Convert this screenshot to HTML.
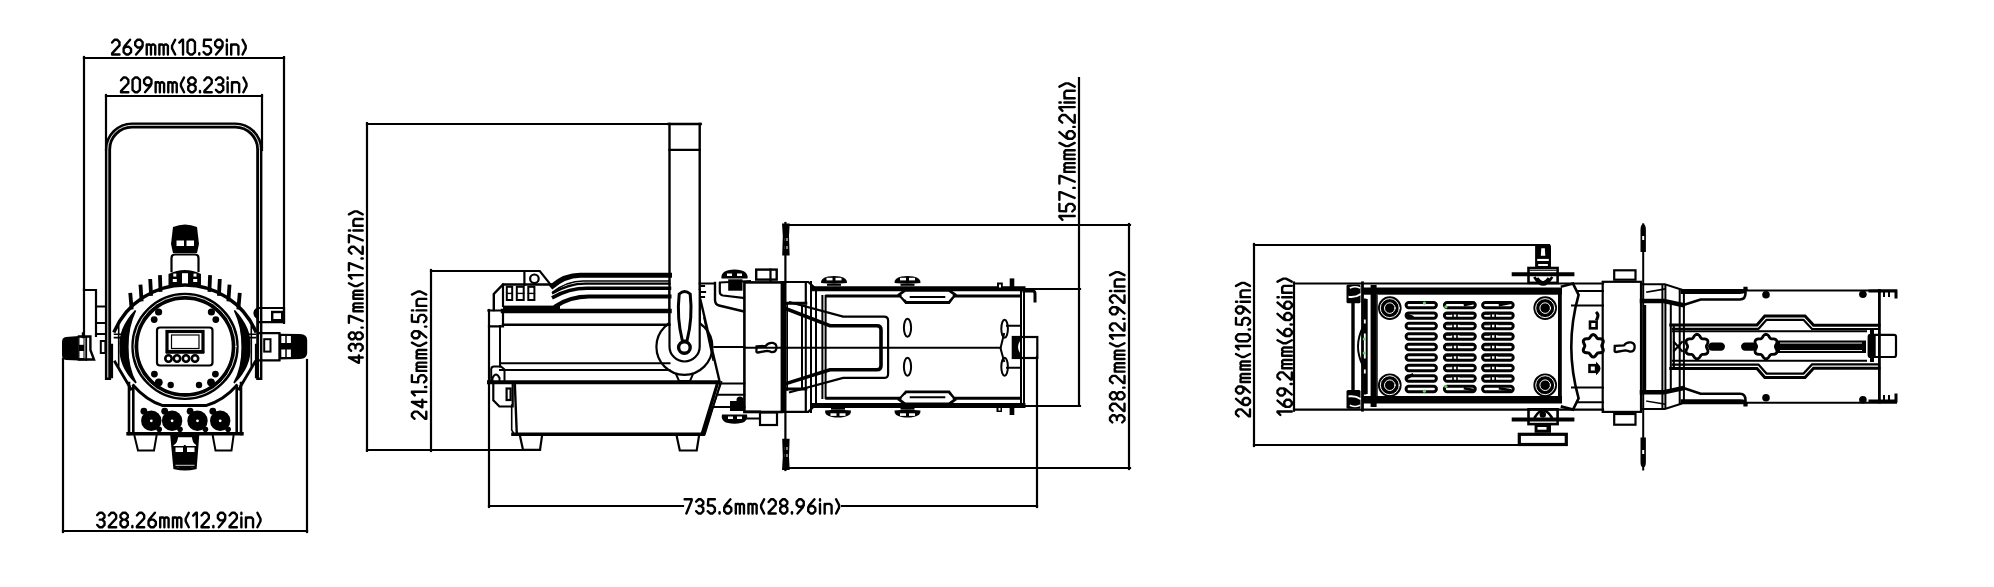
<!DOCTYPE html>
<html><head><meta charset="utf-8"><style>
html,body{margin:0;padding:0;background:#fff;overflow:hidden}
svg{display:block}
text{font-family:"Liberation Sans",sans-serif;font-weight:bold}
</style></head><body>
<svg width="1994" height="587" viewBox="0 0 1994 587" stroke="#000" fill="none" stroke-linecap="square" stroke-linejoin="miter">
<line x1="84" y1="58" x2="284" y2="58" stroke-width="2.2"/>
<line x1="84" y1="57" x2="84" y2="290" stroke-width="2.2"/>
<line x1="284" y1="57" x2="284" y2="323" stroke-width="2.2"/>
<g transform="translate(110.90,39.70) scale(1.8500)" stroke-width="1.297" stroke-linecap="round" stroke-linejoin="round" fill="none" stroke="#000"><path transform="translate(0.649,0)" d="M0,1.5 L1.3,0 H2.7 L4,1.3 V3.1 L0,7.4 V8 H4"/><path transform="translate(6.888,0)" d="M3.5,0 L0.6,3.4 L0,4.6 V6.7 L1.3,8 H2.7 L4,6.7 V5 L2.8,3.8 H1.2 L0.3,4.5"/><path transform="translate(13.128,0)" d="M0.5,8 L3.4,4.6 L4,3.4 V1.3 L2.7,0 H1.3 L0,1.3 V3 L1.2,4.2 H2.8 L3.7,3.5"/><path transform="translate(19.368,0)" d="M0,8 V2.6 M0,3.4 L0.6,2.6 H1.6 L2.3,3.3 V8 M2.3,3.3 L3,2.6 H3.9 L4.6,3.3 V8"/><path transform="translate(26.207,0)" d="M0,8 V2.6 M0,3.4 L0.6,2.6 H1.6 L2.3,3.3 V8 M2.3,3.3 L3,2.6 H3.9 L4.6,3.3 V8"/><path transform="translate(33.047,0)" d="M1.7,0 L0,3.3 V4.7 L1.7,8"/><path transform="translate(36.987,0)" d="M0,1.6 L1.6,0 H2 V8"/><path transform="translate(41.427,0)" d="M1.3,0 H2.7 L4,1.3 V6.7 L2.7,8 H1.3 L0,6.7 V1.3 Z"/><path transform="translate(47.666,0)" d="M0.1,7.3 V8"/><path transform="translate(50.106,0)" d="M4,0 H0.3 L0.1,3.5 H2.7 L4,4.8 V6.7 L2.7,8 H1.3 L0,6.7"/><path transform="translate(56.346,0)" d="M0.5,8 L3.4,4.6 L4,3.4 V1.3 L2.7,0 H1.3 L0,1.3 V3 L1.2,4.2 H2.8 L3.7,3.5"/><path transform="translate(62.585,0)" d="M0.1,0 V0.7 M0.1,2.6 V8"/><path transform="translate(65.025,0)" d="M0,8 V2.6 M0,3.5 L0.8,2.6 H3 L3.9,3.5 V8"/><path transform="translate(71.165,0)" d="M0,0 L1.7,3.3 V4.7 L0,8"/></g>
<line x1="106" y1="96" x2="262" y2="96" stroke-width="2.2"/>
<line x1="106" y1="95" x2="106" y2="150" stroke-width="2.2"/>
<line x1="262" y1="95" x2="262" y2="150" stroke-width="2.2"/>
<g transform="translate(119.80,77.50) scale(1.8375)" stroke-width="1.306" stroke-linecap="round" stroke-linejoin="round" fill="none" stroke="#000"><path transform="translate(0.653,0)" d="M0,1.5 L1.3,0 H2.7 L4,1.3 V3.1 L0,7.4 V8 H4"/><path transform="translate(6.936,0)" d="M1.3,0 H2.7 L4,1.3 V6.7 L2.7,8 H1.3 L0,6.7 V1.3 Z"/><path transform="translate(13.220,0)" d="M0.5,8 L3.4,4.6 L4,3.4 V1.3 L2.7,0 H1.3 L0,1.3 V3 L1.2,4.2 H2.8 L3.7,3.5"/><path transform="translate(19.503,0)" d="M0,8 V2.6 M0,3.4 L0.6,2.6 H1.6 L2.3,3.3 V8 M2.3,3.3 L3,2.6 H3.9 L4.6,3.3 V8"/><path transform="translate(26.386,0)" d="M0,8 V2.6 M0,3.4 L0.6,2.6 H1.6 L2.3,3.3 V8 M2.3,3.3 L3,2.6 H3.9 L4.6,3.3 V8"/><path transform="translate(33.269,0)" d="M1.7,0 L0,3.3 V4.7 L1.7,8"/><path transform="translate(37.253,0)" d="M1.3,0 H2.7 L4,1.3 V2.5 L2.8,3.8 H1.2 L0,2.5 V1.3 Z M1.2,3.8 L0,5 V6.7 L1.3,8 H2.7 L4,6.7 V5 L2.8,3.8"/><path transform="translate(43.536,0)" d="M0.1,7.3 V8"/><path transform="translate(46.019,0)" d="M0,1.5 L1.3,0 H2.7 L4,1.3 V3.1 L0,7.4 V8 H4"/><path transform="translate(52.303,0)" d="M0,1.3 L1.3,0 H2.7 L4,1.3 V2.6 L2.8,3.8 H1.4 M2.8,3.8 L4,5 V6.7 L2.7,8 H1.3 L0,6.7"/><path transform="translate(58.586,0)" d="M0.1,0 V0.7 M0.1,2.6 V8"/><path transform="translate(61.069,0)" d="M0,8 V2.6 M0,3.5 L0.8,2.6 H3 L3.9,3.5 V8"/><path transform="translate(67.252,0)" d="M0,0 L1.7,3.3 V4.7 L0,8"/></g>
<line x1="63" y1="531" x2="307" y2="531" stroke-width="2.2"/>
<line x1="63" y1="359" x2="63" y2="532" stroke-width="2.2"/>
<line x1="307" y1="360" x2="307" y2="532" stroke-width="2.2"/>
<g transform="translate(96.00,512.70) scale(1.8250)" stroke-width="1.315" stroke-linecap="round" stroke-linejoin="round" fill="none" stroke="#000"><path transform="translate(0.658,0)" d="M0,1.3 L1.3,0 H2.7 L4,1.3 V2.6 L2.8,3.8 H1.4 M2.8,3.8 L4,5 V6.7 L2.7,8 H1.3 L0,6.7"/><path transform="translate(7.044,0)" d="M0,1.5 L1.3,0 H2.7 L4,1.3 V3.1 L0,7.4 V8 H4"/><path transform="translate(13.430,0)" d="M1.3,0 H2.7 L4,1.3 V2.5 L2.8,3.8 H1.2 L0,2.5 V1.3 Z M1.2,3.8 L0,5 V6.7 L1.3,8 H2.7 L4,6.7 V5 L2.8,3.8"/><path transform="translate(19.816,0)" d="M0.1,7.3 V8"/><path transform="translate(22.402,0)" d="M0,1.5 L1.3,0 H2.7 L4,1.3 V3.1 L0,7.4 V8 H4"/><path transform="translate(28.789,0)" d="M3.5,0 L0.6,3.4 L0,4.6 V6.7 L1.3,8 H2.7 L4,6.7 V5 L2.8,3.8 H1.2 L0.3,4.5"/><path transform="translate(35.175,0)" d="M0,8 V2.6 M0,3.4 L0.6,2.6 H1.6 L2.3,3.3 V8 M2.3,3.3 L3,2.6 H3.9 L4.6,3.3 V8"/><path transform="translate(42.161,0)" d="M0,8 V2.6 M0,3.4 L0.6,2.6 H1.6 L2.3,3.3 V8 M2.3,3.3 L3,2.6 H3.9 L4.6,3.3 V8"/><path transform="translate(49.147,0)" d="M1.7,0 L0,3.3 V4.7 L1.7,8"/><path transform="translate(53.233,0)" d="M0,1.6 L1.6,0 H2 V8"/><path transform="translate(57.820,0)" d="M0,1.5 L1.3,0 H2.7 L4,1.3 V3.1 L0,7.4 V8 H4"/><path transform="translate(64.206,0)" d="M0.1,7.3 V8"/><path transform="translate(66.792,0)" d="M0.5,8 L3.4,4.6 L4,3.4 V1.3 L2.7,0 H1.3 L0,1.3 V3 L1.2,4.2 H2.8 L3.7,3.5"/><path transform="translate(73.178,0)" d="M0,1.5 L1.3,0 H2.7 L4,1.3 V3.1 L0,7.4 V8 H4"/><path transform="translate(79.565,0)" d="M0.1,0 V0.7 M0.1,2.6 V8"/><path transform="translate(82.151,0)" d="M0,8 V2.6 M0,3.5 L0.8,2.6 H3 L3.9,3.5 V8"/><path transform="translate(88.437,0)" d="M0,0 L1.7,3.3 V4.7 L0,8"/></g>
<line x1="367" y1="124" x2="700" y2="124" stroke-width="2.2"/>
<line x1="367" y1="123" x2="367" y2="451" stroke-width="2.2"/>
<line x1="367" y1="450" x2="540" y2="450" stroke-width="2.2"/>
<g transform="translate(347.7,363.9) rotate(-90)"><g transform="translate(0.00,1.20) scale(1.7250)" stroke-width="1.391" stroke-linecap="round" stroke-linejoin="round" fill="none" stroke="#000"><path transform="translate(0.696,0)" d="M3,8 V0 L0,5.4 V5.8 H4.2"/><path transform="translate(7.576,0)" d="M0,1.3 L1.3,0 H2.7 L4,1.3 V2.6 L2.8,3.8 H1.4 M2.8,3.8 L4,5 V6.7 L2.7,8 H1.3 L0,6.7"/><path transform="translate(14.257,0)" d="M1.3,0 H2.7 L4,1.3 V2.5 L2.8,3.8 H1.2 L0,2.5 V1.3 Z M1.2,3.8 L0,5 V6.7 L1.3,8 H2.7 L4,6.7 V5 L2.8,3.8"/><path transform="translate(20.938,0)" d="M0.1,7.3 V8"/><path transform="translate(23.818,0)" d="M0,0 H4 V0.6 L1,8"/><path transform="translate(30.499,0)" d="M0,8 V2.6 M0,3.4 L0.6,2.6 H1.6 L2.3,3.3 V8 M2.3,3.3 L3,2.6 H3.9 L4.6,3.3 V8"/><path transform="translate(37.780,0)" d="M0,8 V2.6 M0,3.4 L0.6,2.6 H1.6 L2.3,3.3 V8 M2.3,3.3 L3,2.6 H3.9 L4.6,3.3 V8"/><path transform="translate(45.060,0)" d="M1.7,0 L0,3.3 V4.7 L1.7,8"/><path transform="translate(49.441,0)" d="M0,1.6 L1.6,0 H2 V8"/><path transform="translate(54.322,0)" d="M0,0 H4 V0.6 L1,8"/><path transform="translate(61.002,0)" d="M0.1,7.3 V8"/><path transform="translate(63.883,0)" d="M0,1.5 L1.3,0 H2.7 L4,1.3 V3.1 L0,7.4 V8 H4"/><path transform="translate(70.564,0)" d="M0,0 H4 V0.6 L1,8"/><path transform="translate(77.244,0)" d="M0.1,0 V0.7 M0.1,2.6 V8"/><path transform="translate(80.125,0)" d="M0,8 V2.6 M0,3.5 L0.8,2.6 H3 L3.9,3.5 V8"/><path transform="translate(86.706,0)" d="M0,0 L1.7,3.3 V4.7 L0,8"/></g></g>
<line x1="431" y1="271" x2="526" y2="271" stroke-width="2.2"/>
<line x1="431" y1="270" x2="431" y2="451" stroke-width="2.2"/>
<g transform="translate(410.7,420) rotate(-90)"><g transform="translate(0.00,1.20) scale(1.8000)" stroke-width="1.333" stroke-linecap="round" stroke-linejoin="round" fill="none" stroke="#000"><path transform="translate(0.667,0)" d="M0,1.5 L1.3,0 H2.7 L4,1.3 V3.1 L0,7.4 V8 H4"/><path transform="translate(7.068,0)" d="M3,8 V0 L0,5.4 V5.8 H4.2"/><path transform="translate(13.670,0)" d="M0,1.6 L1.6,0 H2 V8"/><path transform="translate(18.272,0)" d="M0.1,7.3 V8"/><path transform="translate(20.874,0)" d="M4,0 H0.3 L0.1,3.5 H2.7 L4,4.8 V6.7 L2.7,8 H1.3 L0,6.7"/><path transform="translate(27.275,0)" d="M0,8 V2.6 M0,3.4 L0.6,2.6 H1.6 L2.3,3.3 V8 M2.3,3.3 L3,2.6 H3.9 L4.6,3.3 V8"/><path transform="translate(34.277,0)" d="M0,8 V2.6 M0,3.4 L0.6,2.6 H1.6 L2.3,3.3 V8 M2.3,3.3 L3,2.6 H3.9 L4.6,3.3 V8"/><path transform="translate(41.279,0)" d="M1.7,0 L0,3.3 V4.7 L1.7,8"/><path transform="translate(45.380,0)" d="M0.5,8 L3.4,4.6 L4,3.4 V1.3 L2.7,0 H1.3 L0,1.3 V3 L1.2,4.2 H2.8 L3.7,3.5"/><path transform="translate(51.782,0)" d="M0.1,7.3 V8"/><path transform="translate(54.384,0)" d="M4,0 H0.3 L0.1,3.5 H2.7 L4,4.8 V6.7 L2.7,8 H1.3 L0,6.7"/><path transform="translate(60.785,0)" d="M0.1,0 V0.7 M0.1,2.6 V8"/><path transform="translate(63.387,0)" d="M0,8 V2.6 M0,3.5 L0.8,2.6 H3 L3.9,3.5 V8"/><path transform="translate(69.689,0)" d="M0,0 L1.7,3.3 V4.7 L0,8"/></g></g>
<line x1="489" y1="310" x2="489" y2="507" stroke-width="2.2"/>
<line x1="489" y1="506" x2="683" y2="506" stroke-width="2.2"/>
<line x1="842" y1="506" x2="1037" y2="506" stroke-width="2.2"/>
<line x1="1037" y1="357" x2="1037" y2="507" stroke-width="2.2"/>
<g transform="translate(683.40,499.30) scale(1.7750)" stroke-width="1.352" stroke-linecap="round" stroke-linejoin="round" fill="none" stroke="#000"><path transform="translate(0.676,0)" d="M0,0 H4 V0.6 L1,8"/><path transform="translate(7.206,0)" d="M0,1.3 L1.3,0 H2.7 L4,1.3 V2.6 L2.8,3.8 H1.4 M2.8,3.8 L4,5 V6.7 L2.7,8 H1.3 L0,6.7"/><path transform="translate(13.735,0)" d="M4,0 H0.3 L0.1,3.5 H2.7 L4,4.8 V6.7 L2.7,8 H1.3 L0,6.7"/><path transform="translate(20.265,0)" d="M0.1,7.3 V8"/><path transform="translate(22.994,0)" d="M3.5,0 L0.6,3.4 L0,4.6 V6.7 L1.3,8 H2.7 L4,6.7 V5 L2.8,3.8 H1.2 L0.3,4.5"/><path transform="translate(29.523,0)" d="M0,8 V2.6 M0,3.4 L0.6,2.6 H1.6 L2.3,3.3 V8 M2.3,3.3 L3,2.6 H3.9 L4.6,3.3 V8"/><path transform="translate(36.653,0)" d="M0,8 V2.6 M0,3.4 L0.6,2.6 H1.6 L2.3,3.3 V8 M2.3,3.3 L3,2.6 H3.9 L4.6,3.3 V8"/><path transform="translate(43.782,0)" d="M1.7,0 L0,3.3 V4.7 L1.7,8"/><path transform="translate(48.012,0)" d="M0,1.5 L1.3,0 H2.7 L4,1.3 V3.1 L0,7.4 V8 H4"/><path transform="translate(54.541,0)" d="M1.3,0 H2.7 L4,1.3 V2.5 L2.8,3.8 H1.2 L0,2.5 V1.3 Z M1.2,3.8 L0,5 V6.7 L1.3,8 H2.7 L4,6.7 V5 L2.8,3.8"/><path transform="translate(61.071,0)" d="M0.1,7.3 V8"/><path transform="translate(63.800,0)" d="M0.5,8 L3.4,4.6 L4,3.4 V1.3 L2.7,0 H1.3 L0,1.3 V3 L1.2,4.2 H2.8 L3.7,3.5"/><path transform="translate(70.330,0)" d="M3.5,0 L0.6,3.4 L0,4.6 V6.7 L1.3,8 H2.7 L4,6.7 V5 L2.8,3.8 H1.2 L0.3,4.5"/><path transform="translate(76.859,0)" d="M0.1,0 V0.7 M0.1,2.6 V8"/><path transform="translate(79.589,0)" d="M0,8 V2.6 M0,3.5 L0.8,2.6 H3 L3.9,3.5 V8"/><path transform="translate(86.018,0)" d="M0,0 L1.7,3.3 V4.7 L0,8"/></g>
<line x1="785" y1="225" x2="1130" y2="225" stroke-width="2.2"/>
<line x1="1129" y1="224" x2="1129" y2="469" stroke-width="2.2"/>
<line x1="785" y1="468" x2="1130" y2="468" stroke-width="2.2"/>
<g transform="translate(1108.8,423.7) rotate(-90)"><g transform="translate(0.00,1.20) scale(1.8125)" stroke-width="1.324" stroke-linecap="round" stroke-linejoin="round" fill="none" stroke="#000"><path transform="translate(0.662,0)" d="M0,1.3 L1.3,0 H2.7 L4,1.3 V2.6 L2.8,3.8 H1.4 M2.8,3.8 L4,5 V6.7 L2.7,8 H1.3 L0,6.7"/><path transform="translate(7.041,0)" d="M0,1.5 L1.3,0 H2.7 L4,1.3 V3.1 L0,7.4 V8 H4"/><path transform="translate(13.419,0)" d="M1.3,0 H2.7 L4,1.3 V2.5 L2.8,3.8 H1.2 L0,2.5 V1.3 Z M1.2,3.8 L0,5 V6.7 L1.3,8 H2.7 L4,6.7 V5 L2.8,3.8"/><path transform="translate(19.798,0)" d="M0.1,7.3 V8"/><path transform="translate(22.377,0)" d="M0,1.5 L1.3,0 H2.7 L4,1.3 V3.1 L0,7.4 V8 H4"/><path transform="translate(28.755,0)" d="M0,8 V2.6 M0,3.4 L0.6,2.6 H1.6 L2.3,3.3 V8 M2.3,3.3 L3,2.6 H3.9 L4.6,3.3 V8"/><path transform="translate(35.734,0)" d="M0,8 V2.6 M0,3.4 L0.6,2.6 H1.6 L2.3,3.3 V8 M2.3,3.3 L3,2.6 H3.9 L4.6,3.3 V8"/><path transform="translate(42.712,0)" d="M1.7,0 L0,3.3 V4.7 L1.7,8"/><path transform="translate(46.791,0)" d="M0,1.6 L1.6,0 H2 V8"/><path transform="translate(51.370,0)" d="M0,1.5 L1.3,0 H2.7 L4,1.3 V3.1 L0,7.4 V8 H4"/><path transform="translate(57.748,0)" d="M0.1,7.3 V8"/><path transform="translate(60.327,0)" d="M0.5,8 L3.4,4.6 L4,3.4 V1.3 L2.7,0 H1.3 L0,1.3 V3 L1.2,4.2 H2.8 L3.7,3.5"/><path transform="translate(66.706,0)" d="M0,1.5 L1.3,0 H2.7 L4,1.3 V3.1 L0,7.4 V8 H4"/><path transform="translate(73.084,0)" d="M0.1,0 V0.7 M0.1,2.6 V8"/><path transform="translate(75.663,0)" d="M0,8 V2.6 M0,3.5 L0.8,2.6 H3 L3.9,3.5 V8"/><path transform="translate(81.941,0)" d="M0,0 L1.7,3.3 V4.7 L0,8"/></g></g>
<line x1="1022" y1="289" x2="1080" y2="289" stroke-width="2.2"/>
<line x1="1079" y1="78" x2="1079" y2="406" stroke-width="2.2"/>
<line x1="1022" y1="406" x2="1080" y2="406" stroke-width="2.2"/>
<g transform="translate(1058.2,221) rotate(-90)"><g transform="translate(0.00,1.20) scale(1.9125)" stroke-width="1.255" stroke-linecap="round" stroke-linejoin="round" fill="none" stroke="#000"><path transform="translate(0.627,0)" d="M0,1.6 L1.6,0 H2 V8"/><path transform="translate(4.957,0)" d="M4,0 H0.3 L0.1,3.5 H2.7 L4,4.8 V6.7 L2.7,8 H1.3 L0,6.7"/><path transform="translate(11.087,0)" d="M0,0 H4 V0.6 L1,8"/><path transform="translate(17.218,0)" d="M0.1,7.3 V8"/><path transform="translate(19.548,0)" d="M0,0 H4 V0.6 L1,8"/><path transform="translate(25.678,0)" d="M0,8 V2.6 M0,3.4 L0.6,2.6 H1.6 L2.3,3.3 V8 M2.3,3.3 L3,2.6 H3.9 L4.6,3.3 V8"/><path transform="translate(32.408,0)" d="M0,8 V2.6 M0,3.4 L0.6,2.6 H1.6 L2.3,3.3 V8 M2.3,3.3 L3,2.6 H3.9 L4.6,3.3 V8"/><path transform="translate(39.138,0)" d="M1.7,0 L0,3.3 V4.7 L1.7,8"/><path transform="translate(42.968,0)" d="M3.5,0 L0.6,3.4 L0,4.6 V6.7 L1.3,8 H2.7 L4,6.7 V5 L2.8,3.8 H1.2 L0.3,4.5"/><path transform="translate(49.098,0)" d="M0.1,7.3 V8"/><path transform="translate(51.428,0)" d="M0,1.5 L1.3,0 H2.7 L4,1.3 V3.1 L0,7.4 V8 H4"/><path transform="translate(57.558,0)" d="M0,1.6 L1.6,0 H2 V8"/><path transform="translate(61.888,0)" d="M0.1,0 V0.7 M0.1,2.6 V8"/><path transform="translate(64.218,0)" d="M0,8 V2.6 M0,3.5 L0.8,2.6 H3 L3.9,3.5 V8"/><path transform="translate(70.248,0)" d="M0,0 L1.7,3.3 V4.7 L0,8"/></g></g>
<line x1="1254" y1="245" x2="1549" y2="245" stroke-width="2.2"/>
<line x1="1254" y1="244" x2="1254" y2="446" stroke-width="2.2"/>
<line x1="1254" y1="445" x2="1520" y2="445" stroke-width="2.2"/>
<g transform="translate(1234.8,417.6) rotate(-90)"><g transform="translate(0.00,1.20) scale(1.7500)" stroke-width="1.371" stroke-linecap="round" stroke-linejoin="round" fill="none" stroke="#000"><path transform="translate(0.686,0)" d="M0,1.5 L1.3,0 H2.7 L4,1.3 V3.1 L0,7.4 V8 H4"/><path transform="translate(7.238,0)" d="M3.5,0 L0.6,3.4 L0,4.6 V6.7 L1.3,8 H2.7 L4,6.7 V5 L2.8,3.8 H1.2 L0.3,4.5"/><path transform="translate(13.791,0)" d="M0.5,8 L3.4,4.6 L4,3.4 V1.3 L2.7,0 H1.3 L0,1.3 V3 L1.2,4.2 H2.8 L3.7,3.5"/><path transform="translate(20.344,0)" d="M0,8 V2.6 M0,3.4 L0.6,2.6 H1.6 L2.3,3.3 V8 M2.3,3.3 L3,2.6 H3.9 L4.6,3.3 V8"/><path transform="translate(27.497,0)" d="M0,8 V2.6 M0,3.4 L0.6,2.6 H1.6 L2.3,3.3 V8 M2.3,3.3 L3,2.6 H3.9 L4.6,3.3 V8"/><path transform="translate(34.649,0)" d="M1.7,0 L0,3.3 V4.7 L1.7,8"/><path transform="translate(38.902,0)" d="M0,1.6 L1.6,0 H2 V8"/><path transform="translate(43.655,0)" d="M1.3,0 H2.7 L4,1.3 V6.7 L2.7,8 H1.3 L0,6.7 V1.3 Z"/><path transform="translate(50.208,0)" d="M0.1,7.3 V8"/><path transform="translate(52.960,0)" d="M4,0 H0.3 L0.1,3.5 H2.7 L4,4.8 V6.7 L2.7,8 H1.3 L0,6.7"/><path transform="translate(59.513,0)" d="M0.5,8 L3.4,4.6 L4,3.4 V1.3 L2.7,0 H1.3 L0,1.3 V3 L1.2,4.2 H2.8 L3.7,3.5"/><path transform="translate(66.066,0)" d="M0.1,0 V0.7 M0.1,2.6 V8"/><path transform="translate(68.819,0)" d="M0,8 V2.6 M0,3.5 L0.8,2.6 H3 L3.9,3.5 V8"/><path transform="translate(75.271,0)" d="M0,0 L1.7,3.3 V4.7 L0,8"/></g></g>
<line x1="1294" y1="282.5" x2="1294" y2="410.7" stroke-width="2.2"/>
<g transform="translate(1276.3,416.2) rotate(-90)"><g transform="translate(0.00,1.20) scale(1.7875)" stroke-width="1.343" stroke-linecap="round" stroke-linejoin="round" fill="none" stroke="#000"><path transform="translate(0.671,0)" d="M0,1.6 L1.6,0 H2 V8"/><path transform="translate(5.229,0)" d="M3.5,0 L0.6,3.4 L0,4.6 V6.7 L1.3,8 H2.7 L4,6.7 V5 L2.8,3.8 H1.2 L0.3,4.5"/><path transform="translate(11.587,0)" d="M0.5,8 L3.4,4.6 L4,3.4 V1.3 L2.7,0 H1.3 L0,1.3 V3 L1.2,4.2 H2.8 L3.7,3.5"/><path transform="translate(17.944,0)" d="M0.1,7.3 V8"/><path transform="translate(20.502,0)" d="M0,1.5 L1.3,0 H2.7 L4,1.3 V3.1 L0,7.4 V8 H4"/><path transform="translate(26.860,0)" d="M0,8 V2.6 M0,3.4 L0.6,2.6 H1.6 L2.3,3.3 V8 M2.3,3.3 L3,2.6 H3.9 L4.6,3.3 V8"/><path transform="translate(33.817,0)" d="M0,8 V2.6 M0,3.4 L0.6,2.6 H1.6 L2.3,3.3 V8 M2.3,3.3 L3,2.6 H3.9 L4.6,3.3 V8"/><path transform="translate(40.775,0)" d="M1.7,0 L0,3.3 V4.7 L1.7,8"/><path transform="translate(44.833,0)" d="M3.5,0 L0.6,3.4 L0,4.6 V6.7 L1.3,8 H2.7 L4,6.7 V5 L2.8,3.8 H1.2 L0.3,4.5"/><path transform="translate(51.191,0)" d="M0.1,7.3 V8"/><path transform="translate(53.748,0)" d="M3.5,0 L0.6,3.4 L0,4.6 V6.7 L1.3,8 H2.7 L4,6.7 V5 L2.8,3.8 H1.2 L0.3,4.5"/><path transform="translate(60.106,0)" d="M3.5,0 L0.6,3.4 L0,4.6 V6.7 L1.3,8 H2.7 L4,6.7 V5 L2.8,3.8 H1.2 L0.3,4.5"/><path transform="translate(66.464,0)" d="M0.1,0 V0.7 M0.1,2.6 V8"/><path transform="translate(69.021,0)" d="M0,8 V2.6 M0,3.5 L0.8,2.6 H3 L3.9,3.5 V8"/><path transform="translate(75.279,0)" d="M0,0 L1.7,3.3 V4.7 L0,8"/></g></g>
<path d="M108,377 V149.5 A24,24 0 0 1 132,125.5 H235.3 A24,24 0 0 1 259.3,149.5 V377" stroke-width="6.2" fill="none"/>
<path d="M107.8,377 V149.5 A24.2,24.2 0 0 1 132,125.3 H235.3 A24.2,24.2 0 0 1 259.5,149.5 V377" stroke="#fff" stroke-width="0.9" fill="none"/>
<path d="M111.8,345 V377 M256.2,345 V377" stroke-width="2.6" fill="none"/>
<path d="M84,290 H96 V336 M84,289 V337" stroke-width="2.2" fill="none"/>
<path d="M96,306.5 H106 M96,323 H106 M96,334 H106" stroke-width="2" fill="none"/>
<path d="M260,308 H284 V322.2 H260" stroke-width="2.2" fill="none"/>
<rect x="272.2" y="312" width="10" height="8.2" rx="0" stroke-width="2.4" fill="none"/>
<path d="M258.2,307.3 Q253,309 253.4,313.5 Q253.6,318 258.2,319.5 Z" fill="#000" stroke="none"/>
<path d="M78.9,336.5 H90.4 V350 L94,359.5 H78.9" stroke-width="2.4" fill="none"/>
<path d="M78.9,336 L66,337 Q62,337.5 62,342 V355 Q62,359.5 66,360 L78.9,360.5 Z" fill="#000" stroke="none"/>
<path d="M78.9,336 H84.5 V360.5 H78.9 Z" fill="#000" stroke="none"/>
<rect x="79.5" y="337.8" width="4" height="7" fill="#fff" stroke="none"/>
<rect x="79.5" y="351" width="4" height="7" fill="#fff" stroke="none"/>
<line x1="86.2" y1="337" x2="86.2" y2="360" stroke-width="1.8"/>
<path d="M83,333.5 V337" stroke-width="2.4" fill="none"/>
<rect x="100.8" y="341" width="4.6" height="12" rx="0" stroke-width="2" fill="none"/>
<path d="M260.2,333.1 H279.3 M260.2,360.4 H279.3" stroke-width="2.4" fill="none"/>
<path d="M279.3,333.5 V360" stroke-width="2" fill="none"/>
<path d="M279.3,333.8 L300,334 Q307.2,334.5 307.2,340 V353 Q307.2,358.5 300,359 L279.3,359.6 Z" fill="#000" stroke="none"/>
<rect x="281.3" y="336" width="9.6" height="7" fill="#fff" stroke="none"/>
<rect x="281.3" y="349.5" width="9.6" height="7.5" fill="#fff" stroke="none"/>
<line x1="286" y1="336" x2="286" y2="357" stroke-width="1.5"/>
<rect x="264.2" y="339.2" width="6.3" height="12.4" rx="0" stroke-width="2" fill="none"/>
<path d="M173,227 Q185,222 197,227 L199,244 L197,253 L173,253 L171,244 Z" stroke-width="0" fill="#000"/>
<rect x="176.5" y="240.5" width="7.5" height="5.5" fill="#fff" stroke="none"/>
<rect x="186.5" y="240.5" width="7.5" height="5.5" fill="#fff" stroke="none"/>
<path d="M171.5,271 V258 Q171.5,254.5 175,254.5 H195 Q198.5,254.5 198.5,258 V271" stroke-width="2.2" fill="none"/>
<path d="M168.5,285.5 V274 Q185,266 201,274 V285.5 Z" stroke-width="0" fill="#000"/>
<rect x="182" y="273.2" width="6" height="11" fill="#fff" stroke="none"/>
<rect x="173.3" y="273.6" width="3" height="3" fill="#fff" stroke="none"/>
<rect x="172.8" y="279" width="4" height="3" fill="#fff" stroke="none"/>
<rect x="193.5" y="273.6" width="3" height="3" fill="#fff" stroke="none"/>
<rect x="193.2" y="279" width="4" height="3" fill="#fff" stroke="none"/>
<path d="M114.5,331 A77,77 0 0 1 255.5,331" stroke-width="3.4" fill="none"/>
<path d="M131.5,307.6 L130.4,294.7" stroke-width="3.8" fill="none"/>
<path d="M141.5,299.5 L140.6,286.5" stroke-width="3.8" fill="none"/>
<path d="M151.0,293.9 L150.3,280.9" stroke-width="3.8" fill="none"/>
<path d="M160.5,290.0 L160.0,277.0" stroke-width="3.8" fill="none"/>
<path d="M209.5,290.0 L210.0,277.0" stroke-width="3.8" fill="none"/>
<path d="M219.0,293.9 L219.7,280.9" stroke-width="3.8" fill="none"/>
<path d="M228.5,299.5 L229.4,286.5" stroke-width="3.8" fill="none"/>
<path d="M238.5,307.6 L239.6,294.7" stroke-width="3.8" fill="none"/>
<circle cx="185" cy="346.4" r="50.2" stroke-width="7" fill="none"/>
<circle cx="185" cy="346.4" r="51" stroke="#fff" stroke-width="0.9" fill="none"/>
<path d="M115,362 L131,389" stroke-width="2.8" fill="none"/>
<path d="M255,362 L239,389" stroke-width="2.8" fill="none"/>
<path d="M135.5,310.5 Q118.5,329 120.5,347 Q119,366 136,383 Q127.5,368 127.8,347 Q127.5,327 135.5,310.5 Z" stroke-width="1.6" fill="#000"/>
<path d="M234.5,310.5 Q251.5,329 249.5,347 Q251,366 234,383 Q242.5,368 242.2,347 Q242.5,327 234.5,310.5 Z" stroke-width="1.6" fill="#000"/>
<path d="M114.5,334.2 H124 M114.5,337.6 H124 M118.7,326 V366" stroke-width="1.6" fill="none"/>
<path d="M255.5,334.2 H246 M255.5,337.6 H246 M251.3,326 V366" stroke-width="1.6" fill="none"/>
<path d="M129,383 V434 M133.3,386 V432 M241,383 V434 M236.7,386 V432" stroke-width="2.6" fill="none"/>
<path d="M133.6,385.7 Q146,400 162.2,405.4 H206.5 Q224,400 236.4,385.7" stroke-width="3" fill="none"/>
<line x1="128" y1="433.7" x2="242" y2="433.7" stroke-width="3.4"/>
<rect x="157" y="327.5" width="55.5" height="38" rx="3" stroke-width="2.2" fill="none"/>
<rect x="167" y="331.5" width="36" height="20" rx="0" stroke-width="3.2" fill="none"/>
<rect x="171.5" y="335" width="27.5" height="13.5" rx="0" stroke-width="1.2" fill="none"/>
<line x1="167" y1="352.5" x2="203" y2="352.5" stroke-width="2.4"/>
<circle cx="168.5" cy="358.5" r="3.2" stroke-width="2.6" fill="none"/>
<circle cx="177" cy="358.5" r="3.2" stroke-width="2.6" fill="none"/>
<circle cx="186" cy="358.5" r="3.2" stroke-width="2.6" fill="none"/>
<circle cx="195" cy="358.5" r="3.2" stroke-width="2.6" fill="none"/>
<circle cx="158.6" cy="312" r="3.6" stroke="none" fill="#000"/>
<circle cx="154.2" cy="319.6" r="3.4" stroke="none" fill="#000"/>
<circle cx="211.4" cy="312" r="3.6" stroke="none" fill="#000"/>
<circle cx="215.8" cy="319.6" r="3.4" stroke="none" fill="#000"/>
<circle cx="154.4" cy="374.1" r="3.4" stroke="none" fill="#000"/>
<circle cx="158.8" cy="382.3" r="3.9" stroke="none" fill="#000"/>
<circle cx="170.7" cy="385" r="3.2" stroke="none" fill="#000"/>
<circle cx="215.4" cy="374.1" r="3.4" stroke="none" fill="#000"/>
<circle cx="211" cy="382.3" r="3.9" stroke="none" fill="#000"/>
<circle cx="199" cy="385" r="3.2" stroke="none" fill="#000"/>
<circle cx="151.3" cy="420.8" r="10.2" stroke="none" fill="#000"/>
<circle cx="143.9" cy="411.2" r="3.4" stroke="none" fill="#000"/>
<circle cx="159.20000000000002" cy="429.3" r="2.8" stroke="none" fill="#000"/>
<circle cx="151.3" cy="420.8" r="1.4" fill="#fff" stroke="none"/>
<circle cx="172.1" cy="420.8" r="10.2" stroke="none" fill="#000"/>
<circle cx="164.7" cy="411.2" r="3.4" stroke="none" fill="#000"/>
<circle cx="180.0" cy="429.3" r="2.8" stroke="none" fill="#000"/>
<circle cx="172.1" cy="420.8" r="1.4" fill="#fff" stroke="none"/>
<circle cx="197.5" cy="420.8" r="10.2" stroke="none" fill="#000"/>
<circle cx="190.1" cy="411.2" r="3.4" stroke="none" fill="#000"/>
<circle cx="205.4" cy="429.3" r="2.8" stroke="none" fill="#000"/>
<circle cx="197.5" cy="420.8" r="1.4" fill="#fff" stroke="none"/>
<circle cx="220.2" cy="420.8" r="10.2" stroke="none" fill="#000"/>
<circle cx="212.79999999999998" cy="411.2" r="3.4" stroke="none" fill="#000"/>
<circle cx="228.1" cy="429.3" r="2.8" stroke="none" fill="#000"/>
<circle cx="220.2" cy="420.8" r="1.4" fill="#fff" stroke="none"/>
<path d="M134.5,436 L138,450.5 H154 L156.5,436" stroke-width="2" fill="none"/>
<path d="M212.8,436 L215.5,450.5 H231.5 L233.5,436" stroke-width="2" fill="none"/>
<path d="M171.5,436 L198,436 L195.5,468 Q185,470.5 174.5,468 Z" stroke-width="2.4" fill="none"/>
<path d="M172.8,446 H197 L195.3,467 Q185,469.5 174.7,467 Z" fill="#000" stroke="none"/>
<path d="M172,437 H178 Q178,442 174,445 H172.5 Z M198,437 H192 Q192,442 196,445 H197.5 Z" fill="#000" stroke="none"/>
<rect x="175.5" y="447.5" width="7.5" height="4.5" fill="#fff" stroke="none"/>
<rect x="187" y="447.5" width="7.5" height="4.5" fill="#fff" stroke="none"/>
<line x1="184.8" y1="446" x2="184.8" y2="453" stroke-width="2"/>
<line x1="176" y1="465.5" x2="194" y2="465.5" stroke-width="0.8"/>
<line x1="176" y1="465.3" x2="194" y2="465.3" stroke="#fff" stroke-width="0.8"/>
<path d="M669.5,124 V346 M699.7,124 V346" stroke-width="2.4" fill="none"/>
<line x1="668.5" y1="124" x2="700.7" y2="124" stroke-width="2.4"/>
<line x1="669.5" y1="149.8" x2="699.7" y2="149.8" stroke-width="2.2"/>
<circle cx="684.4" cy="346.8" r="28" fill="#fff" stroke="#000" stroke-width="2.2"/>
<path d="M676,374 L679,381 H690 L693,374" stroke-width="2" fill="none"/>
<path d="M669.5,290 V346.4 A15.1,15.1 0 0 0 699.7,346.4 V290" fill="#fff" stroke="#000" stroke-width="2.2"/>
<path d="M679.2,294 Q684.7,289 690.2,294 C692,310 690.5,327 687,341 H682.4 C678.9,327 677.4,310 679.2,294 Z" stroke-width="3" fill="none"/>
<circle cx="684.4" cy="347.5" r="5.8" stroke-width="3.4" fill="none"/>
<path d="M524.4,285 V271 H539.8 L550.5,284.5" stroke-width="2.2" fill="none"/>
<circle cx="534.4" cy="278.8" r="4.3" stroke-width="2.2" fill="none"/>
<path d="M493.8,310 V294 L503,284.5 H553" stroke-width="2.4" fill="none"/>
<rect x="506.8" y="286.8" width="5.400000000000034" height="13.2" rx="0" stroke-width="2" fill="none"/>
<line x1="506.8" y1="293.4" x2="512.2" y2="293.4" stroke-width="1.4"/>
<rect x="516.8" y="286.8" width="6.900000000000091" height="13.2" rx="0" stroke-width="2" fill="none"/>
<line x1="516.8" y1="293.4" x2="523.7" y2="293.4" stroke-width="1.4"/>
<rect x="528.3" y="286.8" width="6.100000000000023" height="13.2" rx="0" stroke-width="2" fill="none"/>
<line x1="528.3" y1="293.4" x2="534.4" y2="293.4" stroke-width="1.4"/>
<path d="M503,284.5 V306" stroke-width="2.2" fill="none"/>
<path d="M552.5,286 Q565,275 581,275.3 H669.5" stroke-width="5" fill="none"/>
<path d="M553,292 Q567,281 583,281 H669.5" stroke-width="1.6" fill="none"/>
<path d="M553,293 Q569,283.7 585,283.7 H669.5" stroke-width="2.2" fill="none"/>
<path d="M553.5,297 Q569,288.2 587,288.2 H669.5" stroke-width="3.5" fill="none"/>
<path d="M556,306 Q570,296.6 589,296.6 H669.5" stroke-width="4" fill="none"/>
<rect x="503" y="305.6" width="57" height="7.4" fill="#000" stroke="none"/>
<line x1="503" y1="311" x2="669.5" y2="311" stroke-width="4.5"/>
<path d="M488.4,310.5 H503 V326.3 H489" stroke-width="2.2" fill="none"/>
<line x1="503" y1="324.7" x2="669.5" y2="324.7" stroke-width="2.4"/>
<path d="M500,326 V366.5" stroke-width="2" fill="none"/>
<line x1="500" y1="363.2" x2="669.5" y2="363.2" stroke-width="2"/>
<line x1="500" y1="369.9" x2="669.5" y2="369.9" stroke-width="2"/>
<line x1="489" y1="382.3" x2="718" y2="382.3" stroke-width="4"/>
<path d="M491.2,383 V369.5 Q491.2,366.6 494,366.6 H501 L504.5,369.5 V383" stroke-width="2" fill="none"/>
<path d="M492.5,383 V378 Q496,371 499.5,378 V383" stroke-width="2" fill="none"/>
<path d="M493.3,383 V400.3 L499.4,406.5 H512.7 V385" stroke-width="2.2" fill="none"/>
<rect x="506.6" y="388.5" width="4" height="11.5" rx="0" stroke-width="2.2" fill="none"/>
<path d="M514.8,383 L516.8,434.3 H702.8 L718.2,382" stroke-width="2.4" fill="none"/>
<path d="M721.4,382 L703.6,434.3" stroke-width="1.8" fill="none"/>
<line x1="513" y1="434.3" x2="703" y2="434.3" stroke-width="3.6"/>
<path d="M511.7,405 V430 L514,434" stroke-width="1.6" fill="none"/>
<path d="M520,436 L523,449.8 H540 L542,436" stroke-width="2.2" fill="none"/>
<path d="M676.7,436 L679.8,450.5 H696.7 L699,436" stroke-width="2.2" fill="none"/>
<path d="M700.5,300 L719.5,381" stroke-width="2.4" fill="none"/>
<path d="M704,318 L713,360" stroke-width="1.5" fill="none"/>
<path d="M701.5,286 H704 M701.5,292 H705 M701.5,297 H704" stroke-width="2.2" fill="none"/>
<path d="M716.5,384.4 L701.3,434.3 M720,384.4 L704.8,434.3" stroke-width="1.8" fill="none"/>
<rect x="744.4" y="282.4" width="37.5" height="129.6" rx="0" stroke-width="2.6" fill="none"/>
<path d="M714.4,346.9 H744.4 M720,383.4 H744.4 M717,394.7 H744.4 M714,407 H744.4 M744.4,411.6 H760" stroke-width="2" fill="none"/>
<line x1="699.7" y1="283.5" x2="715" y2="283.5" stroke-width="2"/>
<line x1="720" y1="282.5" x2="750" y2="281" stroke-width="2"/>
<path d="M756.6,346.3 L765.8,345.90000000000003 Q768.0,342.3 772.6999999999999,342.90000000000003 A4.7,4.7 0 0 1 772.0,352.20000000000005 Q770.0,351.1 767.0,350.90000000000003 L758.0,352.5 Q756.4,352.5 756.4,351.20000000000005 Z" stroke-width="2.3" fill="none"/>
<path d="M721.5,278.6 Q720,270 734.5,269.4 Q749,270 747.5,278.6 Z" stroke-width="0" fill="#000"/>
<rect x="727" y="273.5" width="5" height="2.5" fill="#fff" stroke="none"/>
<rect x="737" y="273.5" width="5" height="2.5" fill="#fff" stroke="none"/>
<rect x="728.2" y="279.3" width="14.3" height="11.4" fill="#000" stroke="none"/>
<path d="M715,283 V300 Q715,304.5 719,305.5 L744,311.5" stroke-width="2.4" fill="none"/>
<path d="M719.8,283 V292 Q719.8,295 723,295.5 L744,298" stroke-width="2.2" fill="none"/>
<rect x="756.2" y="269.6" width="20.5" height="10" rx="0" stroke-width="2.4" fill="none"/>
<path d="M770.5,269.6 V282" stroke-width="2.2" fill="none"/>
<path d="M722,414.5 Q720,423.7 734.5,423.7 Q749,423.7 747,414.5 Z" stroke-width="0" fill="#000"/>
<rect x="728" y="416.5" width="5" height="2.5" fill="#fff" stroke="none"/>
<rect x="737" y="416.5" width="5" height="2.5" fill="#fff" stroke="none"/>
<rect x="730" y="401" width="14.4" height="10" fill="#000" stroke="none"/>
<circle cx="740" cy="400" r="3.5" stroke="none" fill="#000"/>
<rect x="760" y="412.4" width="17" height="12.6" rx="0" stroke-width="2.2" fill="none"/>
<path d="M760,418.5 H744.4" stroke-width="2" fill="none"/>
<path d="M782,223.4 H789.7 L789,236 L789.6,255.6 H782.2 L782.8,236 Z" fill="#000" stroke="none"/>
<rect x="784.5" y="238" width="3" height="3" fill="#fff" stroke="none"/>
<rect x="784.5" y="246" width="3" height="3" fill="#fff" stroke="none"/>
<path d="M782.2,438.8 H789.6 L789,457 L789.7,470 H782 L782.8,457 Z" fill="#000" stroke="none"/>
<rect x="784.5" y="447" width="3" height="3" fill="#fff" stroke="none"/>
<rect x="784.5" y="454" width="3" height="3" fill="#fff" stroke="none"/>
<line x1="785.4" y1="223" x2="785.4" y2="470" stroke-width="2.2"/>
<path d="M783.6,283 V411" stroke-width="3.2" fill="none"/>
<path d="M787.2,303 V390" stroke-width="1.6" fill="none"/>
<path d="M781.9,282 H808.4 L814.7,287.9 M805.8,282 V303.2" stroke-width="2.2" fill="none"/>
<path d="M781.9,411.8 H808.4 L814.7,405.5 M805.8,411.8 V389" stroke-width="2.2" fill="none"/>
<path d="M786,303.2 H805.8 M786,389 H805.8" stroke-width="3" fill="none"/>
<line x1="812.5" y1="288.8" x2="1023" y2="288.8" stroke-width="5"/>
<line x1="826.8" y1="295.9" x2="1020" y2="295.9" stroke-width="3"/>
<line x1="812.5" y1="405.5" x2="1023" y2="405.5" stroke-width="5"/>
<line x1="826.8" y1="398.2" x2="1020" y2="398.2" stroke-width="3"/>
<path d="M802,305.8 H805.8 V389 H802 Z" stroke-width="2" fill="none"/>
<path d="M811,282 V412 M816,290 V404 M822.4,296 V398 M825.6,296 V398" stroke-width="2" fill="none"/>
<path d="M899.2,294.6 L905.1,290.3 H949 L955,294.6 L949,302.5 H906 Z" stroke-width="2.8" fill="#fff"/>
<path d="M910.7,297.1 H944.3" stroke-width="2" fill="none"/>
<rect x="902.3000000000001" y="293.70000000000005" width="4.8" height="4.8" transform="rotate(45 904.7 296.1)" fill="#fff" stroke="none"/>
<rect x="947.0" y="293.70000000000005" width="4.8" height="4.8" transform="rotate(45 949.4 296.1)" fill="#fff" stroke="none"/>
<path d="M899.2,399.7 L905.1,404.0 H949 L955,399.7 L949,391.8 H906 Z" stroke-width="2.8" fill="#fff"/>
<path d="M910.7,397.2 H944.3" stroke-width="2" fill="none"/>
<rect x="902.3000000000001" y="395.8" width="4.8" height="4.8" transform="rotate(45 904.7 398.2)" fill="#fff" stroke="none"/>
<rect x="947.0" y="395.8" width="4.8" height="4.8" transform="rotate(45 949.4 398.2)" fill="#fff" stroke="none"/>
<path d="M790,302.3 L843.1,316.6 H884 Q888.1,316.6 888.1,320.6 V373.9 Q888.1,377.9 884,377.9 H843.1 L790,392.2" stroke-width="2.2" fill="none"/>
<path d="M785.3,308.4 L829.9,325.8 H877 Q881,325.8 881,329.8 V365.7 Q881,369.7 877,369.7 H829.9 L785.3,383.8" stroke-width="3.6" fill="none"/>
<line x1="744.4" y1="347.8" x2="1000.5" y2="347.8" stroke-width="2"/>
<ellipse cx="907.5" cy="327.8" rx="3.6" ry="9" stroke-width="2"/>
<ellipse cx="907.5" cy="366.7" rx="3.6" ry="9" stroke-width="2"/>
<ellipse cx="1004.6" cy="328.8" rx="3.3" ry="9" stroke-width="2"/>
<ellipse cx="1004.6" cy="366.7" rx="3.3" ry="9" stroke-width="2"/>
<path d="M1004,334 L1000.5,348.3 L1004,361 M1007,325.8 H1021 M1007,367.7 H1021" stroke-width="2" fill="none"/>
<rect x="1012.8" y="337" width="24.5" height="21" rx="0" stroke-width="2.2" fill="none"/>
<rect x="1012.8" y="336" width="8" height="22.5" fill="#000" stroke="none"/>
<path d="M1020,341 Q1016,347 1020,353 H1023 V341 Z" fill="#fff" stroke="none"/>
<path d="M1021,290 V405 M1024,290 V405" stroke-width="2" fill="none"/>
<path d="M1024,291 H1033 Q1035,291 1035,294 V301" stroke-width="3" fill="none"/>
<rect x="997" y="282.5" width="5.8" height="5.1" fill="#000" stroke="none"/>
<rect x="1009.7" y="278.4" width="4.6" height="9.2" fill="#000" stroke="none"/>
<rect x="996.5" y="407.5" width="5.5" height="4.5" fill="#000" stroke="none"/>
<rect x="1009.6" y="407.5" width="4.7" height="7.5" fill="#000" stroke="none"/>
<rect x="999" y="284.5" width="2" height="3" fill="#fff" stroke="none"/>
<rect x="998.5" y="408" width="2" height="2.5" fill="#fff" stroke="none"/>
<path d="M821,283 Q820.5,278 828,276.5 Q834,275.5 840,276.5 Q847.5,278 847,283 Q834,284.5 821,283 Z" fill="#000" stroke="none"/>
<rect x="826.5" y="277.8" width="6" height="2.6" fill="#fff" stroke="none"/>
<rect x="835.5" y="277.8" width="6" height="2.6" fill="#fff" stroke="none"/>
<path d="M828,284.8 H840" stroke-width="2" fill="none"/>
<path d="M894.5,283 Q894.0,278 901.5,276.5 Q907.5,275.5 913.5,276.5 Q921.0,278 920.5,283 Q907.5,284.5 894.5,283 Z" fill="#000" stroke="none"/>
<rect x="900.0" y="277.8" width="6" height="2.6" fill="#fff" stroke="none"/>
<rect x="909.0" y="277.8" width="6" height="2.6" fill="#fff" stroke="none"/>
<path d="M901.5,284.8 H913.5" stroke-width="2" fill="none"/>
<path d="M825,410.5 Q824.5,415.5 832,417.0 Q838,418.0 844,417.0 Q851.5,415.5 851,410.5 Q838,409.0 825,410.5 Z" fill="#000" stroke="none"/>
<rect x="830.5" y="413.3" width="6" height="2.6" fill="#fff" stroke="none"/>
<rect x="839.5" y="413.3" width="6" height="2.6" fill="#fff" stroke="none"/>
<path d="M832,408.7 H844" stroke-width="2" fill="none"/>
<path d="M894.5,410.5 Q894.0,415.5 901.5,417.0 Q907.5,418.0 913.5,417.0 Q921.0,415.5 920.5,410.5 Q907.5,409.0 894.5,410.5 Z" fill="#000" stroke="none"/>
<rect x="900.0" y="413.3" width="6" height="2.6" fill="#fff" stroke="none"/>
<rect x="909.0" y="413.3" width="6" height="2.6" fill="#fff" stroke="none"/>
<path d="M901.5,408.7 H913.5" stroke-width="2" fill="none"/>
<line x1="1294" y1="283.5" x2="1603" y2="283.5" stroke-width="2.2"/>
<line x1="1294" y1="409.7" x2="1603" y2="409.7" stroke-width="2.2"/>
<rect x="1346.5" y="284.5" width="14" height="18.7" rx="1.5" fill="#000" stroke="none"/>
<path d="M1350.5,287.7 Q1355,285.7 1359.5,287.7" stroke="#fff" stroke-width="1.6" fill="none"/>
<path d="M1349.5,296.9 Q1356,297.5 1360,294.5" stroke="#fff" stroke-width="2" fill="none"/>
<rect x="1346.5" y="390.0" width="14" height="18.7" rx="1.5" fill="#000" stroke="none"/>
<path d="M1350.5,405.5 Q1355,407.5 1359.5,405.5" stroke="#fff" stroke-width="1.6" fill="none"/>
<path d="M1349.5,396.3 Q1356,395.7 1360,398.7" stroke="#fff" stroke-width="2" fill="none"/>
<path d="M1353,303 V390" stroke-width="3.4" fill="none"/>
<path d="M1362.5,282.8 V410.2" stroke-width="2.8" fill="none"/>
<path d="M1366.7,300 V393" stroke-width="2" fill="none"/>
<path d="M1364.8,300 V318 M1364.8,325 V332 M1364.8,360 V368 M1364.8,375 V393" stroke-width="3" fill="none"/>
<path d="M1363,327 Q1353,346.5 1363,366" stroke-width="2" fill="none"/>
<rect x="1370.6" y="285" width="6" height="122" fill="#000" stroke="none"/>
<rect x="1362" y="287.5" width="200" height="7.2" fill="#000" stroke="none"/>
<rect x="1362" y="396" width="200" height="7.5" fill="#000" stroke="none"/>
<rect x="1558" y="289" width="3.8" height="112.5" fill="#000" stroke="none"/>
<line x1="1377" y1="295.6" x2="1377" y2="396.5" stroke-width="1.4"/>
<circle cx="1389.8" cy="308.1" r="11.8" stroke="none" fill="#000"/>
<circle cx="1389.8" cy="308.1" r="9.5" stroke="#fff" stroke-width="1" fill="none"/><circle cx="1389.8" cy="308.1" r="5.3" stroke="#fff" stroke-width="1" fill="none"/>
<circle cx="1389.8" cy="385.2" r="11.8" stroke="none" fill="#000"/>
<circle cx="1389.8" cy="385.2" r="9.5" stroke="#fff" stroke-width="1" fill="none"/><circle cx="1389.8" cy="385.2" r="5.3" stroke="#fff" stroke-width="1" fill="none"/>
<circle cx="1545.2" cy="308.1" r="11.8" stroke="none" fill="#000"/>
<circle cx="1545.2" cy="308.1" r="9.5" stroke="#fff" stroke-width="1" fill="none"/><circle cx="1545.2" cy="308.1" r="5.3" stroke="#fff" stroke-width="1" fill="none"/>
<circle cx="1545.2" cy="385.2" r="11.8" stroke="none" fill="#000"/>
<circle cx="1545.2" cy="385.2" r="9.5" stroke="#fff" stroke-width="1" fill="none"/><circle cx="1545.2" cy="385.2" r="5.3" stroke="#fff" stroke-width="1" fill="none"/>
<rect x="1406.1000000000001" y="302.40000000000003" width="30.29999999999991" height="5.4" rx="2.7" stroke-width="3" fill="none"/>
<rect x="1406.1000000000001" y="312.88000000000005" width="30.29999999999991" height="5.4" rx="2.7" stroke-width="3" fill="none"/>
<rect x="1406.1000000000001" y="323.36" width="30.29999999999991" height="5.4" rx="2.7" stroke-width="3" fill="none"/>
<rect x="1406.1000000000001" y="333.84000000000003" width="30.29999999999991" height="5.4" rx="2.7" stroke-width="3" fill="none"/>
<rect x="1406.1000000000001" y="344.32000000000005" width="30.29999999999991" height="5.4" rx="2.7" stroke-width="3" fill="none"/>
<rect x="1406.1000000000001" y="354.8" width="30.29999999999991" height="5.4" rx="2.7" stroke-width="3" fill="none"/>
<rect x="1406.1000000000001" y="365.28000000000003" width="30.29999999999991" height="5.4" rx="2.7" stroke-width="3" fill="none"/>
<rect x="1406.1000000000001" y="375.76000000000005" width="30.29999999999991" height="5.4" rx="2.7" stroke-width="3" fill="none"/>
<rect x="1406.1000000000001" y="386.24000000000007" width="30.29999999999991" height="5.4" rx="2.7" stroke-width="3" fill="none"/>
<rect x="1444.4" y="302.40000000000003" width="30.900000000000045" height="5.4" rx="2.7" stroke-width="3" fill="none"/>
<rect x="1444.4" y="312.88000000000005" width="30.900000000000045" height="5.4" rx="2.7" stroke-width="3" fill="none"/>
<rect x="1444.4" y="323.36" width="30.900000000000045" height="5.4" rx="2.7" stroke-width="3" fill="none"/>
<rect x="1444.4" y="333.84000000000003" width="30.900000000000045" height="5.4" rx="2.7" stroke-width="3" fill="none"/>
<rect x="1444.4" y="344.32000000000005" width="30.900000000000045" height="5.4" rx="2.7" stroke-width="3" fill="none"/>
<rect x="1444.4" y="354.8" width="30.900000000000045" height="5.4" rx="2.7" stroke-width="3" fill="none"/>
<rect x="1444.4" y="365.28000000000003" width="30.900000000000045" height="5.4" rx="2.7" stroke-width="3" fill="none"/>
<rect x="1444.4" y="375.76000000000005" width="30.900000000000045" height="5.4" rx="2.7" stroke-width="3" fill="none"/>
<rect x="1444.4" y="386.24000000000007" width="30.900000000000045" height="5.4" rx="2.7" stroke-width="3" fill="none"/>
<path d="M1453,313.08000000000004 V318.08000000000004" stroke-width="1.6" fill="none"/>
<path d="M1457,313.08000000000004 V318.08000000000004" stroke-width="1.6" fill="none"/>
<path d="M1446,314.38000000000005 H1451 M1460,314.18000000000006 H1472.7" stroke="#000" stroke-width="0.9" fill="none"/>
<path d="M1453,323.56 V328.56" stroke-width="1.6" fill="none"/>
<path d="M1457,323.56 V328.56" stroke-width="1.6" fill="none"/>
<path d="M1446,324.86 H1451 M1460,324.66 H1472.7" stroke="#000" stroke-width="0.9" fill="none"/>
<path d="M1453,334.04 V339.04" stroke-width="1.6" fill="none"/>
<path d="M1457,334.04 V339.04" stroke-width="1.6" fill="none"/>
<path d="M1446,335.34000000000003 H1451 M1460,335.14000000000004 H1472.7" stroke="#000" stroke-width="0.9" fill="none"/>
<path d="M1453,344.52000000000004 V349.52000000000004" stroke-width="1.6" fill="none"/>
<path d="M1457,344.52000000000004 V349.52000000000004" stroke-width="1.6" fill="none"/>
<path d="M1446,345.82000000000005 H1451 M1460,345.62000000000006 H1472.7" stroke="#000" stroke-width="0.9" fill="none"/>
<path d="M1453,355.0 V360.0" stroke-width="1.6" fill="none"/>
<path d="M1457,355.0 V360.0" stroke-width="1.6" fill="none"/>
<path d="M1446,356.3 H1451 M1460,356.1 H1472.7" stroke="#000" stroke-width="0.9" fill="none"/>
<path d="M1453,365.48 V370.48" stroke-width="1.6" fill="none"/>
<path d="M1457,365.48 V370.48" stroke-width="1.6" fill="none"/>
<path d="M1446,366.78000000000003 H1451 M1460,366.58000000000004 H1472.7" stroke="#000" stroke-width="0.9" fill="none"/>
<path d="M1453,375.96000000000004 V380.96000000000004" stroke-width="1.6" fill="none"/>
<path d="M1457,375.96000000000004 V380.96000000000004" stroke-width="1.6" fill="none"/>
<path d="M1446,377.26000000000005 H1451 M1460,377.06000000000006 H1472.7" stroke="#000" stroke-width="0.9" fill="none"/>
<rect x="1482.6000000000001" y="302.40000000000003" width="30.599999999999863" height="5.4" rx="2.7" stroke-width="3" fill="none"/>
<rect x="1482.6000000000001" y="312.88000000000005" width="30.599999999999863" height="5.4" rx="2.7" stroke-width="3" fill="none"/>
<rect x="1482.6000000000001" y="323.36" width="30.599999999999863" height="5.4" rx="2.7" stroke-width="3" fill="none"/>
<rect x="1482.6000000000001" y="333.84000000000003" width="30.599999999999863" height="5.4" rx="2.7" stroke-width="3" fill="none"/>
<rect x="1482.6000000000001" y="344.32000000000005" width="30.599999999999863" height="5.4" rx="2.7" stroke-width="3" fill="none"/>
<rect x="1482.6000000000001" y="354.8" width="30.599999999999863" height="5.4" rx="2.7" stroke-width="3" fill="none"/>
<rect x="1482.6000000000001" y="365.28000000000003" width="30.599999999999863" height="5.4" rx="2.7" stroke-width="3" fill="none"/>
<rect x="1482.6000000000001" y="375.76000000000005" width="30.599999999999863" height="5.4" rx="2.7" stroke-width="3" fill="none"/>
<rect x="1482.6000000000001" y="386.24000000000007" width="30.599999999999863" height="5.4" rx="2.7" stroke-width="3" fill="none"/>
<path d="M1491.2,313.08000000000004 V318.08000000000004" stroke-width="1.6" fill="none"/>
<path d="M1495.2,313.08000000000004 V318.08000000000004" stroke-width="1.6" fill="none"/>
<path d="M1484.2,314.38000000000005 H1489.2 M1498.2,314.18000000000006 H1510.6" stroke="#000" stroke-width="0.9" fill="none"/>
<path d="M1491.2,323.56 V328.56" stroke-width="1.6" fill="none"/>
<path d="M1495.2,323.56 V328.56" stroke-width="1.6" fill="none"/>
<path d="M1484.2,324.86 H1489.2 M1498.2,324.66 H1510.6" stroke="#000" stroke-width="0.9" fill="none"/>
<path d="M1491.2,334.04 V339.04" stroke-width="1.6" fill="none"/>
<path d="M1495.2,334.04 V339.04" stroke-width="1.6" fill="none"/>
<path d="M1484.2,335.34000000000003 H1489.2 M1498.2,335.14000000000004 H1510.6" stroke="#000" stroke-width="0.9" fill="none"/>
<path d="M1491.2,344.52000000000004 V349.52000000000004" stroke-width="1.6" fill="none"/>
<path d="M1495.2,344.52000000000004 V349.52000000000004" stroke-width="1.6" fill="none"/>
<path d="M1484.2,345.82000000000005 H1489.2 M1498.2,345.62000000000006 H1510.6" stroke="#000" stroke-width="0.9" fill="none"/>
<path d="M1491.2,355.0 V360.0" stroke-width="1.6" fill="none"/>
<path d="M1495.2,355.0 V360.0" stroke-width="1.6" fill="none"/>
<path d="M1484.2,356.3 H1489.2 M1498.2,356.1 H1510.6" stroke="#000" stroke-width="0.9" fill="none"/>
<path d="M1491.2,365.48 V370.48" stroke-width="1.6" fill="none"/>
<path d="M1495.2,365.48 V370.48" stroke-width="1.6" fill="none"/>
<path d="M1484.2,366.78000000000003 H1489.2 M1498.2,366.58000000000004 H1510.6" stroke="#000" stroke-width="0.9" fill="none"/>
<path d="M1491.2,375.96000000000004 V380.96000000000004" stroke-width="1.6" fill="none"/>
<path d="M1495.2,375.96000000000004 V380.96000000000004" stroke-width="1.6" fill="none"/>
<path d="M1484.2,377.26000000000005 H1489.2 M1498.2,377.06000000000006 H1510.6" stroke="#000" stroke-width="0.9" fill="none"/>
<path d="M1408,315.3 L1412,317 M1408,377.1 L1412,375" stroke-width="3" fill="none"/>
<path d="M1465,305 L1474,303 M1465,388.4 L1474,390" stroke-width="2.5" fill="none"/>
<path d="M1500,305 L1510,303 M1500,388.4 L1510,390" stroke-width="2.5" fill="none"/>
<circle cx="1424.4" cy="303.1" r="1.6" fill="#5fd35f" stroke="none"/>
<circle cx="1445.9" cy="306.9" r="1.6" fill="#5fd35f" stroke="none"/>
<circle cx="1424.4" cy="391.2" r="1.6" fill="#5fd35f" stroke="none"/>
<circle cx="1445.9" cy="386.5" r="1.6" fill="#5fd35f" stroke="none"/>
<circle cx="1364.2" cy="339" r="1.6" fill="#5fd35f" stroke="none"/>
<circle cx="1364.2" cy="353" r="1.6" fill="#5fd35f" stroke="none"/>
<path d="M1562,286.5 L1573,283.6 L1578.6,294.9 Q1564,346.6 1578.6,398.3 L1573,409.6 L1562,406.7" stroke-width="2.6" fill="none"/>
<path d="M1578,291 H1603 M1572,305.6 H1603 M1572,387.6 H1603 M1578,402.2 H1603" stroke-width="2" fill="none"/>
<path d="M1593.30,334.60 L1594.26,334.82 L1595.13,335.43 L1595.85,336.28 L1596.44,337.17 L1596.97,337.92 L1597.56,338.43 L1598.29,338.68 L1599.20,338.76 L1600.27,338.83 L1601.36,339.03 L1602.33,339.48 L1603.00,340.20 L1603.29,341.14 L1603.19,342.20 L1602.82,343.25 L1602.34,344.21 L1601.96,345.04 L1601.81,345.80 L1601.96,346.56 L1602.34,347.39 L1602.82,348.35 L1603.19,349.40 L1603.29,350.46 L1603.00,351.40 L1602.33,352.12 L1601.36,352.57 L1600.27,352.77 L1599.20,352.84 L1598.29,352.92 L1597.56,353.17 L1596.97,353.68 L1596.44,354.43 L1595.85,355.32 L1595.13,356.17 L1594.26,356.78 L1593.30,357.00 L1592.34,356.78 L1591.47,356.17 L1590.75,355.32 L1590.16,354.43 L1589.63,353.68 L1589.04,353.17 L1588.31,352.92 L1587.40,352.84 L1586.33,352.77 L1585.24,352.57 L1584.27,352.12 L1583.60,351.40 L1583.31,350.46 L1583.41,349.40 L1583.78,348.35 L1584.26,347.39 L1584.64,346.56 L1584.79,345.80 L1584.64,345.04 L1584.26,344.21 L1583.78,343.25 L1583.41,342.20 L1583.31,341.14 L1583.60,340.20 L1584.27,339.48 L1585.24,339.03 L1586.33,338.83 L1587.40,338.76 L1588.31,338.68 L1589.04,338.43 L1589.63,337.92 L1590.16,337.17 L1590.75,336.28 L1591.47,335.43 L1592.34,334.82 L1593.30,334.60 Z" stroke-width="3" fill="#fff"/>
<rect x="1590" y="321.7" width="6.6" height="6.6" rx="0" stroke-width="2.6" fill="none"/>
<path d="M1597,319 Q1599,315 1597,313" stroke-width="3" fill="none"/>
<rect x="1589.5" y="365.2" width="6.6" height="6.6" rx="0" stroke-width="2.6" fill="none"/>
<path d="M1597,364 Q1602,368.5 1597,373 Z" stroke-width="2" fill="#000"/>
<path d="M1535.1,267 V246.5 Q1535.1,244.6 1537,244.6 H1549 Q1551,244.6 1551,246.5 V267 Z" fill="#000" stroke="none"/>
<path d="M1540.8,255.8 L1541.3,248.2 H1544.8 L1545.3,255.8 Z" fill="#fff" stroke="none"/>
<rect x="1537.2" y="258.9" width="11.6" height="2.1" fill="#fff" stroke="none"/>
<rect x="1538.2" y="264" width="9.7" height="2" fill="#fff" stroke="none"/>
<rect x="1528.5" y="268" width="29.1" height="14.9" rx="0" stroke-width="2.6" fill="none"/>
<line x1="1530" y1="270.3" x2="1556" y2="270.3" stroke-width="1"/>
<line x1="1513.7" y1="274.2" x2="1572.4" y2="274.2" stroke-width="4"/>
<path d="M1535,278 Q1543,291 1551.5,278 M1538,279 Q1543,286 1548,279" stroke-width="2.6" fill="none"/>
<rect x="1528.5" y="409.3" width="29.1" height="14.8" rx="0" stroke-width="2.6" fill="none"/>
<line x1="1513.7" y1="419.5" x2="1572.4" y2="419.5" stroke-width="4"/>
<path d="M1535,417 Q1543,404 1551.5,417" stroke-width="2.6" fill="none"/>
<circle cx="1542.8" cy="414.5" r="3.2" stroke="none" fill="#000"/>
<path d="M1534.6,424 H1551 V432.8 H1534.6 Z" fill="#000" stroke="none"/>
<rect x="1537.5" y="427" width="9" height="2.7" fill="#fff" stroke="none"/>
<rect x="1519.3" y="434.3" width="47" height="10.2" rx="0" stroke-width="3.2" fill="none"/>
<rect x="1602.7" y="281.8" width="38.3" height="130.1" rx="0" stroke-width="2.2" fill="none"/>
<rect x="1614.2" y="270.3" width="21.3" height="9.4" rx="0" stroke-width="2.2" fill="none"/>
<rect x="1614.2" y="414" width="21.3" height="10.7" rx="0" stroke-width="2.2" fill="none"/>
<path d="M1614.8,345.8 L1624.0,345.40000000000003 Q1626.1999999999998,341.8 1630.8999999999999,342.40000000000003 A4.7,4.7 0 0 1 1630.1999999999998,351.70000000000005 Q1628.1999999999998,350.6 1625.1999999999998,350.40000000000003 L1616.1999999999998,352.0 Q1614.6,352.0 1614.6,350.70000000000005 Z" stroke-width="2.3" fill="none"/>
<line x1="1643.2" y1="224.3" x2="1643.2" y2="469.5" stroke-width="2"/>
<path d="M1640.5,252 V230 Q1640.5,224.3 1643.2,224.3 Q1645.9,224.3 1645.9,230 V252 Z" fill="#000" stroke="none"/>
<path d="M1640.5,437.5 V462 Q1640.5,467.3 1643.2,467.3 Q1645.9,467.3 1645.9,462 V437.5 Z" fill="#000" stroke="none"/>
<rect x="1642.2" y="236" width="2" height="4" fill="#fff" stroke="none"/>
<rect x="1642.2" y="450" width="2" height="4" fill="#fff" stroke="none"/>
<rect x="1642.8" y="305" width="3.4" height="85.6" fill="#000" stroke="none"/>
<path d="M1641,284.3 H1664.8 L1682.7,290.0 H1747" stroke-width="2" fill="none"/>
<path d="M1682.7,291.8 H1740 Q1745.5,291.8 1745.5,288.8" stroke-width="4.2" fill="none"/>
<path d="M1685,304.6 L1700.6,299.5 H1740 Q1745.5,299.5 1745.5,293.0" stroke-width="2.6" fill="none"/>
<path d="M1642,301.0 H1664 L1682.7,305.0" stroke-width="4.5" fill="none"/>
<path d="M1647,292.0 L1664.8,289.0" stroke-width="1.6" fill="none"/>
<path d="M1641,408.90000000000003 H1664.8 L1682.7,403.20000000000005 H1747" stroke-width="2" fill="none"/>
<path d="M1682.7,401.40000000000003 H1740 Q1745.5,401.40000000000003 1745.5,404.40000000000003" stroke-width="4.2" fill="none"/>
<path d="M1685,388.6 L1700.6,393.70000000000005 H1740 Q1745.5,393.70000000000005 1745.5,400.20000000000005" stroke-width="2.6" fill="none"/>
<path d="M1642,392.20000000000005 H1664 L1682.7,388.20000000000005" stroke-width="4.5" fill="none"/>
<path d="M1647,401.20000000000005 L1664.8,404.20000000000005" stroke-width="1.6" fill="none"/>
<line x1="1747" y1="290.4" x2="1896" y2="290.4" stroke-width="2"/>
<line x1="1747" y1="402.8" x2="1896" y2="402.8" stroke-width="2"/>
<path d="M1662.4,286 V407 M1665.4,286 V407 M1679.7,290 V403 M1683.9,290 V403 M1670.8,305 V388" stroke-width="2" fill="none"/>
<path d="M1670.8,325 H1757 L1764.8,316 H1805 L1813.6,325.2 H1879" stroke-width="3" fill="none"/>
<path d="M1672.8,328.8 H1758.5 L1766.5,319.8 H1803.5 L1812,329 H1879" stroke-width="2.2" fill="none"/>
<path d="M1670.8,368.4 H1757 L1764.8,377.4 H1805 L1813.6,368.2 H1879" stroke-width="3" fill="none"/>
<path d="M1672.8,364.6 H1758.5 L1766.5,373.6 H1803.5 L1812,364.4 H1879" stroke-width="2.2" fill="none"/>
<path d="M1672.8,331.3 H1866 M1672.8,360.7 H1866" stroke-width="2" fill="none"/>
<path d="M1697.00,334.30 L1698.05,334.54 L1699.01,335.21 L1699.80,336.14 L1700.45,337.12 L1701.03,337.95 L1701.67,338.50 L1702.48,338.78 L1703.48,338.87 L1704.65,338.95 L1705.86,339.17 L1706.91,339.66 L1707.65,340.45 L1707.97,341.49 L1707.86,342.65 L1707.46,343.80 L1706.93,344.85 L1706.51,345.77 L1706.35,346.60 L1706.51,347.43 L1706.93,348.35 L1707.46,349.40 L1707.86,350.55 L1707.97,351.71 L1707.65,352.75 L1706.91,353.54 L1705.86,354.03 L1704.65,354.25 L1703.48,354.33 L1702.48,354.42 L1701.67,354.70 L1701.03,355.25 L1700.45,356.08 L1699.80,357.06 L1699.01,357.99 L1698.05,358.66 L1697.00,358.90 L1695.95,358.66 L1694.99,357.99 L1694.20,357.06 L1693.55,356.08 L1692.97,355.25 L1692.33,354.70 L1691.52,354.42 L1690.52,354.33 L1689.35,354.25 L1688.14,354.03 L1687.09,353.54 L1686.35,352.75 L1686.03,351.71 L1686.14,350.55 L1686.54,349.40 L1687.07,348.35 L1687.49,347.43 L1687.65,346.60 L1687.49,345.77 L1687.07,344.85 L1686.54,343.80 L1686.14,342.65 L1686.03,341.49 L1686.35,340.45 L1687.09,339.66 L1688.14,339.17 L1689.35,338.95 L1690.52,338.87 L1691.52,338.78 L1692.33,338.50 L1692.97,337.95 L1693.55,337.12 L1694.20,336.14 L1694.99,335.21 L1695.95,334.54 L1697.00,334.30 Z" stroke-width="2.8" fill="#fff"/>
<path d="M1766.00,334.30 L1767.05,334.54 L1768.01,335.21 L1768.80,336.14 L1769.45,337.12 L1770.03,337.95 L1770.67,338.50 L1771.48,338.78 L1772.48,338.87 L1773.65,338.95 L1774.86,339.17 L1775.91,339.66 L1776.65,340.45 L1776.97,341.49 L1776.86,342.65 L1776.46,343.80 L1775.93,344.85 L1775.51,345.77 L1775.35,346.60 L1775.51,347.43 L1775.93,348.35 L1776.46,349.40 L1776.86,350.55 L1776.97,351.71 L1776.65,352.75 L1775.91,353.54 L1774.86,354.03 L1773.65,354.25 L1772.48,354.33 L1771.48,354.42 L1770.67,354.70 L1770.03,355.25 L1769.45,356.08 L1768.80,357.06 L1768.01,357.99 L1767.05,358.66 L1766.00,358.90 L1764.95,358.66 L1763.99,357.99 L1763.20,357.06 L1762.55,356.08 L1761.97,355.25 L1761.33,354.70 L1760.52,354.42 L1759.52,354.33 L1758.35,354.25 L1757.14,354.03 L1756.09,353.54 L1755.35,352.75 L1755.03,351.71 L1755.14,350.55 L1755.54,349.40 L1756.07,348.35 L1756.49,347.43 L1756.65,346.60 L1756.49,345.77 L1756.07,344.85 L1755.54,343.80 L1755.14,342.65 L1755.03,341.49 L1755.35,340.45 L1756.09,339.66 L1757.14,339.17 L1758.35,338.95 L1759.52,338.87 L1760.52,338.78 L1761.33,338.50 L1761.97,337.95 L1762.55,337.12 L1763.20,336.14 L1763.99,335.21 L1764.95,334.54 L1766.00,334.30 Z" stroke-width="2.8" fill="#fff"/>
<rect x="1708" y="342.4" width="17" height="8.4" rx="4.2" fill="#000" stroke="none"/>
<rect x="1741" y="342.4" width="16" height="8.4" rx="4.2" fill="#000" stroke="none"/>
<path d="M1673.8,326 V367" stroke-width="2.2" fill="none"/>
<rect x="1776" y="340.5" width="90" height="12.5" fill="#000" stroke="none"/>
<rect x="1780" y="342.6" width="82" height="0.9" fill="#fff" stroke="none"/><rect x="1780" y="350" width="82" height="0.9" fill="#fff" stroke="none"/>
<path d="M1674,342 L1682,351 M1682,342 L1674,351" stroke-width="2" fill="none"/>
<circle cx="1766" cy="294.8" r="3.8" stroke="none" fill="#000"/>
<circle cx="1766" cy="397.7" r="3.8" stroke="none" fill="#000"/>
<circle cx="1862.9" cy="294.2" r="3.8" stroke="none" fill="#000"/>
<circle cx="1862.9" cy="399.7" r="3.8" stroke="none" fill="#000"/>
<path d="M1879.4,290.4 V402" stroke-width="2.8" fill="none"/>
<path d="M1870,291 H1896 V297 M1870,401 H1896 V395" stroke-width="3" fill="none"/>
<path d="M1884,291 V296 M1889,291 V296 M1884,401 V396 M1889,401 V396" stroke-width="2" fill="none"/>
<rect x="1868.7" y="334.8" width="27.3" height="22.2" rx="2" stroke-width="2.2" fill="none"/>
<rect x="1868.7" y="334.8" width="7" height="22.5" fill="#000" stroke="none"/>
<rect x="1870" y="330" width="4" height="32" fill="#000" stroke="none"/>
</svg>
</body></html>
